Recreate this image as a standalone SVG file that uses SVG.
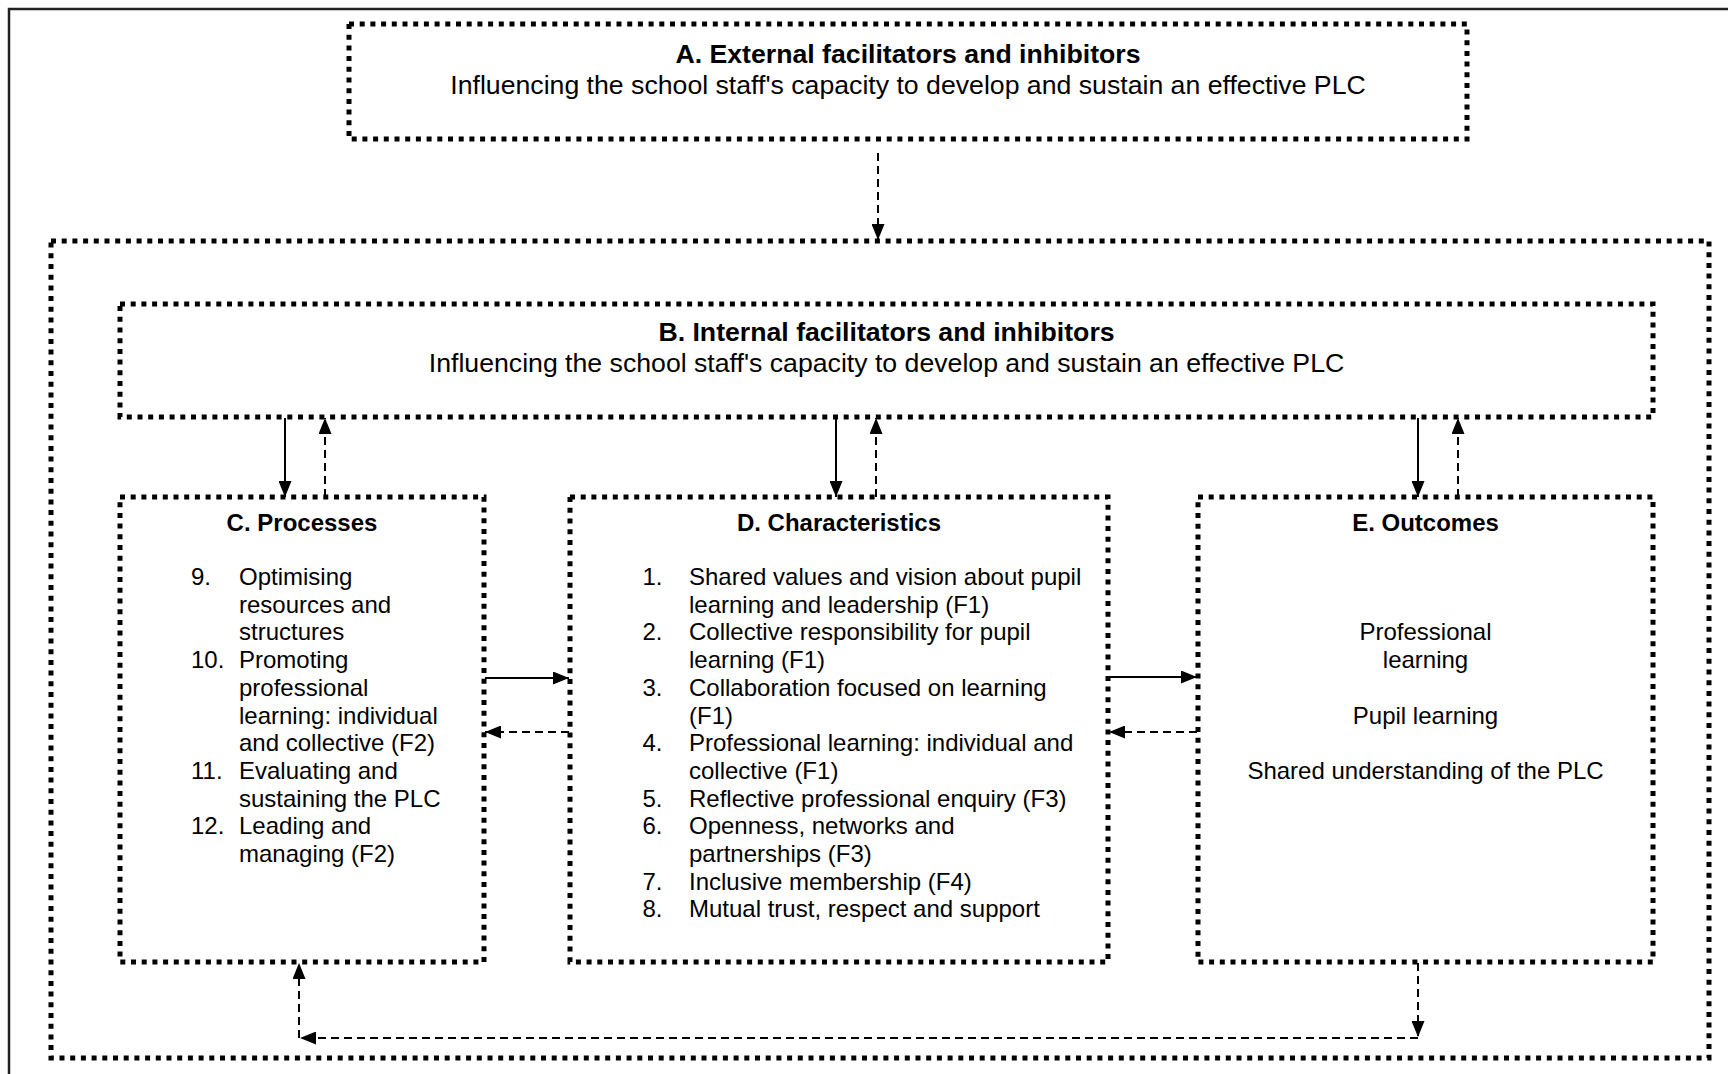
<svg xmlns="http://www.w3.org/2000/svg" width="1728" height="1074" viewBox="0 0 1728 1074">
  <style>
    text { font-family: "Liberation Sans", Arial, sans-serif; fill: #000; }
    .big { font-size: 26.67px; }
    .body { font-size: 24px; }
    .bold { font-weight: bold; }
    .mid { text-anchor: middle; }
    .box { fill: none; stroke: #000; stroke-width: 5; stroke-dasharray: 5 5.7; }
    .solid { fill: none; stroke: #000; stroke-width: 2; }
    .dash { fill: none; stroke: #000; stroke-width: 2; stroke-dasharray: 8 5; }
  </style>
  <defs>
    <marker id="head" markerUnits="userSpaceOnUse" markerWidth="16" markerHeight="13" refX="16" refY="6.5" orient="auto">
      <path d="M0,0 L16,6.5 L0,13 Z" fill="#000"/>
    </marker>
  </defs>

  <rect width="1728" height="1074" fill="#fff"/>

  <!-- page frame -->
  <path d="M9,1074 V9 H1728" fill="none" stroke="#222" stroke-width="2.5"/>

  <!-- A: external facilitators -->
  <g id="node-a">
    <rect class="box" x="349" y="24" width="1118" height="115"/>
    <text class="big bold mid" x="908" y="63">A. External facilitators and inhibitors</text>
    <text class="big mid" x="908" y="94">Influencing the school staff's capacity to develop and sustain an effective PLC</text>
  </g>

  <!-- school boundary -->
  <g id="node-school">
    <rect class="box" x="51" y="241" width="1658" height="817"/>
  </g>

  <!-- B: internal facilitators -->
  <g id="node-b">
    <rect class="box" x="120" y="304" width="1533" height="113"/>
    <text class="big bold mid" x="886.5" y="341">B. Internal facilitators and inhibitors</text>
    <text class="big mid" x="886.5" y="372">Influencing the school staff's capacity to develop and sustain an effective PLC</text>
  </g>

  <!-- C: processes -->
  <g id="node-c">
    <rect class="box" x="120" y="497" width="364" height="465"/>
    <text class="body bold mid" x="302" y="531">C. Processes</text>
    <g class="body">
      <text x="191" y="585">9.</text>
      <text x="239" y="585">Optimising</text>
      <text x="239" y="612.7">resources and</text>
      <text x="239" y="640.4">structures</text>
      <text x="191" y="668.1">10.</text>
      <text x="239" y="668.1">Promoting</text>
      <text x="239" y="695.8">professional</text>
      <text x="239" y="723.5">learning: individual</text>
      <text x="239" y="751.2">and collective (F2)</text>
      <text x="191" y="778.9">11.</text>
      <text x="239" y="778.9">Evaluating and</text>
      <text x="239" y="806.6">sustaining the PLC</text>
      <text x="191" y="834.3">12.</text>
      <text x="239" y="834.3">Leading and</text>
      <text x="239" y="862">managing (F2)</text>
    </g>
  </g>

  <!-- D: characteristics -->
  <g id="node-d">
    <rect class="box" x="570" y="497" width="538" height="465"/>
    <text class="body bold mid" x="839" y="531">D. Characteristics</text>
    <g class="body">
      <text x="642.5" y="585">1.</text>
      <text x="689" y="585">Shared values and vision about pupil</text>
      <text x="689" y="612.7">learning and leadership (F1)</text>
      <text x="642.5" y="640.4">2.</text>
      <text x="689" y="640.4">Collective responsibility for pupil</text>
      <text x="689" y="668.1">learning (F1)</text>
      <text x="642.5" y="695.8">3.</text>
      <text x="689" y="695.8">Collaboration focused on learning</text>
      <text x="689" y="723.5">(F1)</text>
      <text x="642.5" y="751.2">4.</text>
      <text x="689" y="751.2">Professional learning: individual and</text>
      <text x="689" y="778.9">collective (F1)</text>
      <text x="642.5" y="806.6">5.</text>
      <text x="689" y="806.6">Reflective professional enquiry (F3)</text>
      <text x="642.5" y="834.3">6.</text>
      <text x="689" y="834.3">Openness, networks and</text>
      <text x="689" y="862">partnerships (F3)</text>
      <text x="642.5" y="889.7">7.</text>
      <text x="689" y="889.7">Inclusive membership (F4)</text>
      <text x="642.5" y="917.4">8.</text>
      <text x="689" y="917.4">Mutual trust, respect and support</text>
    </g>
  </g>

  <!-- E: outcomes -->
  <g id="node-e">
    <rect class="box" x="1198" y="497" width="455" height="465"/>
    <text class="body bold mid" x="1425.5" y="531">E. Outcomes</text>
    <g class="body mid">
      <text x="1425.5" y="640.4">Professional</text>
      <text x="1425.5" y="668.1">learning</text>
      <text x="1425.5" y="723.5">Pupil learning</text>
      <text x="1425.5" y="778.9">Shared understanding of the PLC</text>
    </g>
  </g>

  <!-- connectors -->
  <g id="connectors">
    <line class="dash" x1="878" y1="153" x2="878" y2="240" marker-end="url(#head)"/>

    <line class="solid" x1="285" y1="418" x2="285" y2="497" marker-end="url(#head)"/>
    <line class="dash" x1="325" y1="497" x2="325" y2="418" marker-end="url(#head)"/>
    <line class="solid" x1="836" y1="418" x2="836" y2="497" marker-end="url(#head)"/>
    <line class="dash" x1="876" y1="497" x2="876" y2="418" marker-end="url(#head)"/>
    <line class="solid" x1="1418" y1="418" x2="1418" y2="497" marker-end="url(#head)"/>
    <line class="dash" x1="1458" y1="497" x2="1458" y2="418" marker-end="url(#head)"/>

    <line class="solid" x1="485" y1="678" x2="569" y2="678" marker-end="url(#head)"/>
    <line class="dash" x1="569" y1="732" x2="485" y2="732" marker-end="url(#head)"/>
    <line class="solid" x1="1109" y1="677" x2="1197" y2="677" marker-end="url(#head)"/>
    <line class="dash" x1="1197" y1="732" x2="1109" y2="732" marker-end="url(#head)"/>

    <line class="dash" x1="1418" y1="963" x2="1418" y2="1037" marker-end="url(#head)"/>
    <line class="dash" x1="1418" y1="1038" x2="300" y2="1038" marker-end="url(#head)"/>
    <line class="dash" x1="299" y1="1038" x2="299" y2="963" marker-end="url(#head)"/>
  </g>
</svg>
